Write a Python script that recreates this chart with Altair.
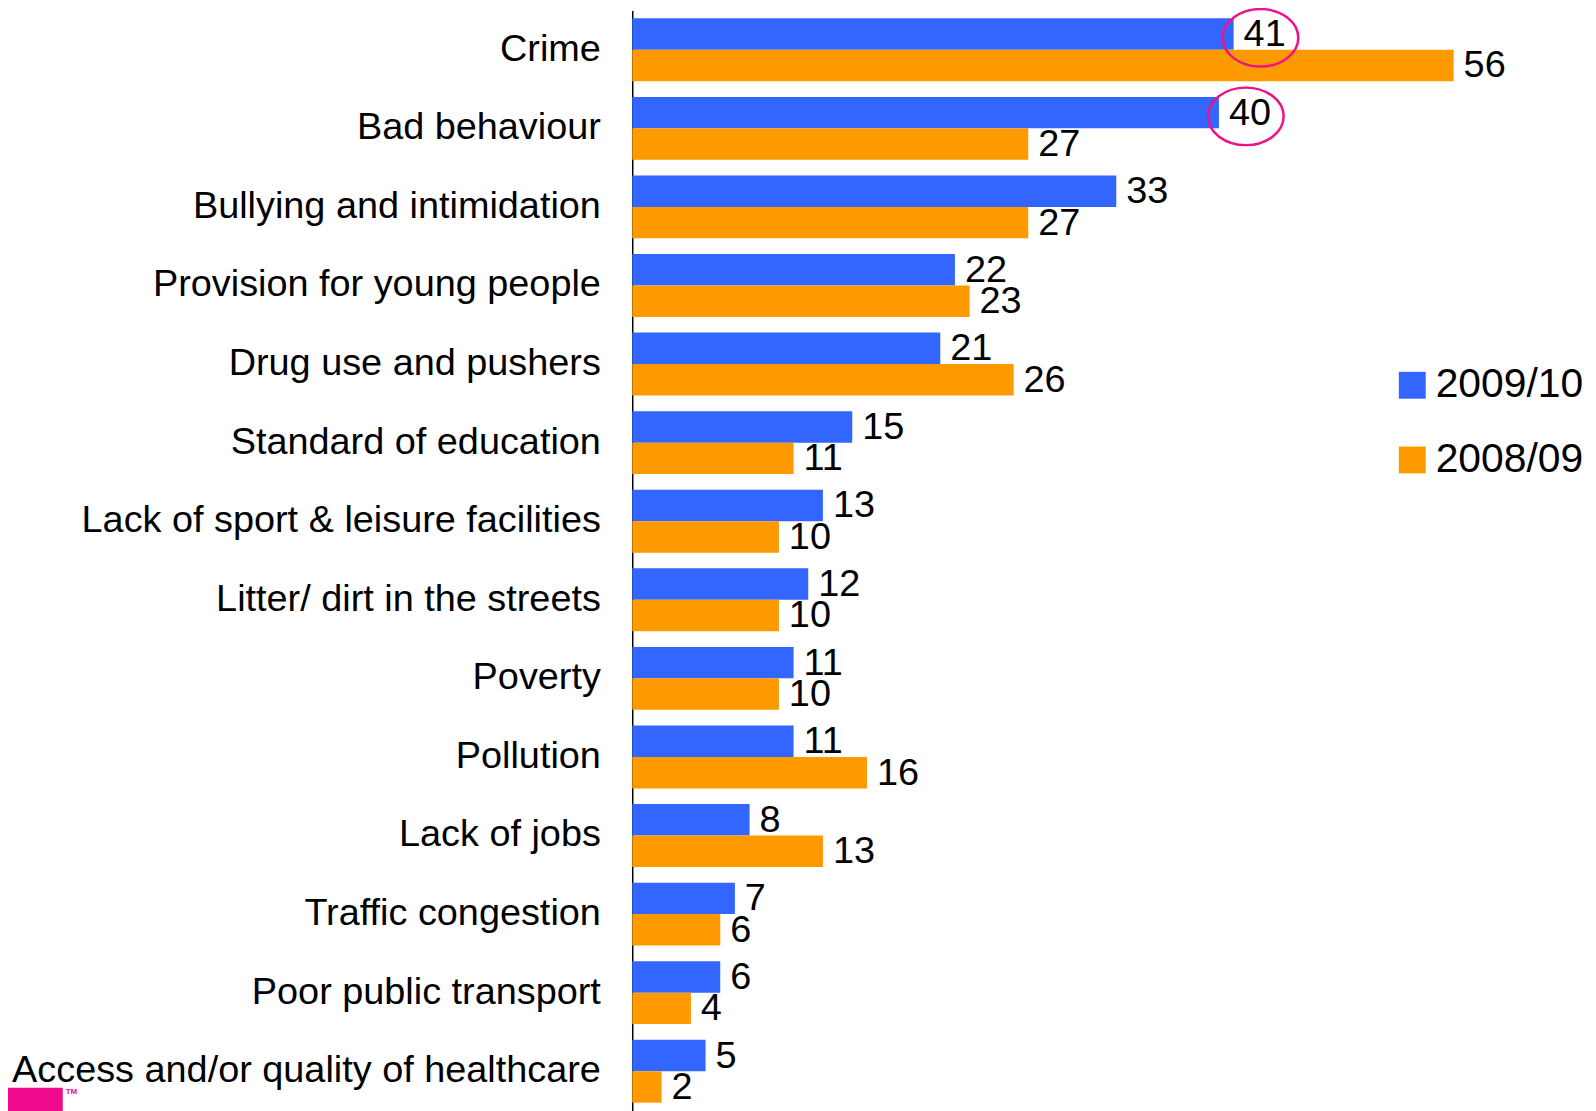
import altair as alt
import pandas as pd

categories = [
    "Crime", "Bad behaviour", "Bullying and intimidation", "Provision for young people",
    "Drug use and pushers", "Standard of education", "Lack of sport & leisure facilities",
    "Litter/ dirt in the streets", "Poverty", "Pollution", "Lack of jobs",
    "Traffic congestion", "Poor public transport", "Access and/or quality of healthcare",
]
series = ["2009/10", "2008/09"]
values_2009_10 = [41, 40, 33, 22, 21, 15, 13, 12, 11, 11, 8, 7, 6, 5]
values_2008_09 = [56, 27, 27, 23, 26, 11, 10, 10, 10, 16, 13, 6, 4, 2]
highlighted = ["Crime", "Bad behaviour"]
colors = ["#3366FF", "#FF9900"]
pink = "#EE1188"

rows = []
for c, a, b in zip(categories, values_2009_10, values_2008_09):
    rows.append({"category": c, "series": series[0], "value": a})
    rows.append({"category": c, "series": series[1], "value": b})
df = pd.DataFrame(rows)
hl = df[(df["series"] == series[0]) & (df["category"].isin(highlighted))]

FONT = "Liberation Sans"

y_enc = alt.Y("category:N", sort=categories,
              scale=alt.Scale(paddingInner=0.2, paddingOuter=0.1),
              axis=alt.Axis(title=None, labelFontSize=38, labelFont=FONT, labelColor="black",
                            ticks=False, domain=True, domainColor="black", domainWidth=1.5,
                            labelPadding=32, labelLimit=0, grid=False))
x_enc = alt.X("value:Q", scale=alt.Scale(domain=[0, 60], nice=False), axis=None)
yoff = alt.YOffset("series:N", sort=series, scale=alt.Scale(domain=series, paddingInner=0, paddingOuter=0))

bars = alt.Chart(df).mark_bar().encode(
    y=y_enc, x=x_enc, yOffset=yoff,
    color=alt.Color("series:N", sort=series,
                    scale=alt.Scale(domain=series, range=colors),
                    legend=alt.Legend(title=None, orient="none", legendX=763, legendY=356,
                                      symbolType="square", symbolSize=729, symbolStrokeWidth=0,
                                      labelFontSize=41, labelFont=FONT, labelColor="black",
                                      labelOffset=3, rowPadding=33, padding=0)),
)

labels = alt.Chart(df).mark_text(align="left", baseline="middle", dx=10, dy=1,
                                 fontSize=38, font=FONT, color="black").encode(
    y=alt.Y("category:N", sort=categories), x="value:Q", yOffset=yoff,
    text="value:Q",
)

ellipse_path = "M -0.29 0.1 A 1 0.76 0 1 1 1.71 0.1 A 1 0.76 0 1 1 -0.29 0.1 Z"
circles = alt.Chart(hl).mark_point(shape=ellipse_path, size=5776, filled=False,
                                   stroke=pink, strokeWidth=2.5, opacity=1).encode(
    y=alt.Y("category:N", sort=categories), x="value:Q", yOffset=yoff,
)

logo_df = pd.DataFrame({"k": [0]})
logo = alt.Chart(logo_df).mark_rect(color="#F00A8C").encode(
    x=alt.value(-627), x2=alt.value(-572), y=alt.value(1082), y2=alt.value(1120),
)
tm = alt.Chart(logo_df).mark_text(text="TM", fontSize=8, fontWeight="bold", color="#F00A8C",
                                  align="left", baseline="top", font=FONT).encode(
    x=alt.value(-569), y=alt.value(1082),
)

chart = alt.layer(bars, labels, circles, logo, tm).properties(
    width=884, height=1105,
    autosize=alt.AutoSizeParams(type="none"),
    padding={"left": 627, "top": 0, "right": 76, "bottom": 0},
).configure_view(stroke=None)

chart.save("out.html", embed_options={"renderer": "svg", "actions": False})
